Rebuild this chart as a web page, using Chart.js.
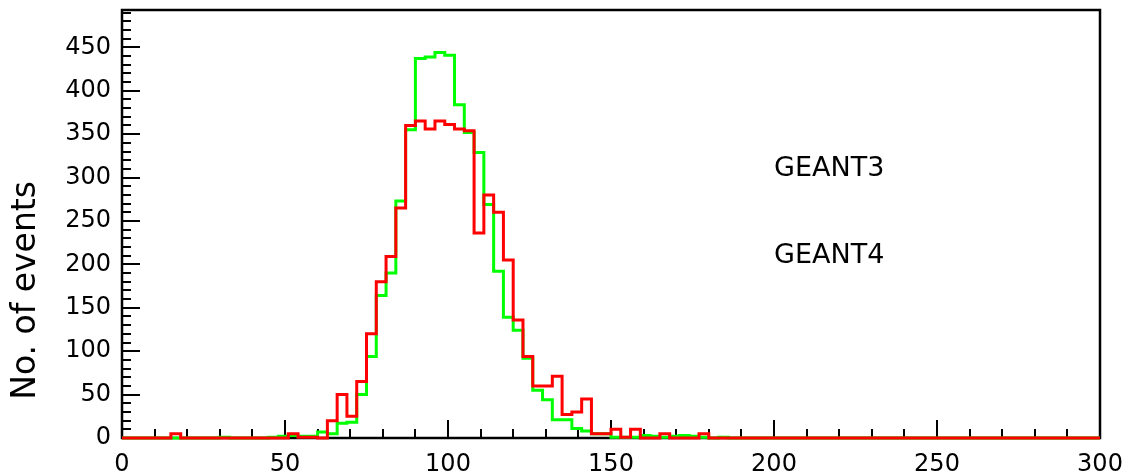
<!DOCTYPE html>
<html>
<head>
<meta charset="utf-8">
<script src="https://cdn.jsdelivr.net/npm/chart.js@4/dist/chart.umd.min.js"></script>
<style>
html,body{margin:0;padding:0;background:#fff;}
#wrap{width:1130px;height:474px;position:relative;}
</style>
</head>
<body>
<div id="wrap"><canvas id="c" width="1130" height="474"></canvas></div>
<script>
// ---- data ----
const binLow = [0,3,6,9,12,15,18,21,24,27,30,33,36,39,42,45,48,51,54,57,
  60,63,66,69,72,75,78,81,84,87,90,93,96,99,102,105,108,111,114,117,
  120,123,126,129,132,135,138,141,144,147,150,153,156,159,162,165,168,171,174,177,
  180,183,186,189,192,195,198,201,204,207,210,213,216,219,222,225,228,231,234,237,
  240,243,246,249,252,255,258,261,264,267,270,273,276,279,282,285,288,291,294,297];
const geant3Counts = [0,0,0,0,0,0,0,0,0,0,1,0,0,0,0,1,2,3,2,2,
  7,5,17,18,50,94,164,190,273,355,437,439,444,441,384,352,329,269,192,139,
  124,92,55,44,21,21,11,8,5,5,1,1,1,3,2,1,2,3,2,1,
  0,1,0,0,0,0,0,0,0,0,0,0,0,0,0,0,0,0,0,0,
  0,0,0,0,0,0,0,0,0,0,0,0,0,0,0,0,0,0,0,0];
const geant4Counts = [0,0,0,0,0,5,0,0,0,0,0,0,0,0,0,0,0,5,1,1,
  0,20,50,25,65,120,180,209,265,360,365,356,365,361,356,354,236,280,260,205,
  136,94,60,60,71,27,30,45,5,5,10,1,10,0,0,5,0,0,0,5,
  0,0,0,0,0,0,0,0,0,0,0,0,0,0,0,0,0,0,0,0,
  0,0,0,0,0,0,0,0,0,0,0,0,0,0,0,0,0,0,0,0];
const xTickLabels = ['0','50','100','150','200','250','300'];
const yTickLabels = ['0','50','100','150','200','250','300','350','400','450'];
const yAxisTitle = 'No. of events';
const textLabels = ['GEANT3','GEANT4'];
const textLabelX = [200, 200];
const textLabelY = [310, 210];
const xMax = 300;
const yMax = 493;
const minorStep = 10;
const majorStep = 50;

// ---- helpers ----
function histPoints(counts) {
  const pts = binLow.map((x, i) => ({x: x, y: counts[i]}));
  pts.push({x: xMax, y: counts[counts.length - 1]});
  return pts;
}

const FONT = 'DejaVu Sans';

const framePlugin = {
  id: 'frameTicks',
  beforeDatasetsDraw(chart) {
    const {ctx, chartArea: a} = chart;
    const xs = chart.scales.x, ys = chart.scales.y;
    ctx.save();
    ctx.strokeStyle = '#000';
    ctx.lineWidth = 2;
    ctx.beginPath();
    for (let v = 0; v <= xMax; v += minorStep) {
      const px = Math.round(xs.getPixelForValue(v));
      const len = (v % majorStep === 0) ? 18 : 9;
      ctx.moveTo(px, a.bottom);
      ctx.lineTo(px, a.bottom - len);
    }
    for (let v = 0; v <= yMax; v += minorStep) {
      const py = Math.round(ys.getPixelForValue(v));
      const len = (v % majorStep === 0) ? 18 : 9;
      ctx.moveTo(a.left, py);
      ctx.lineTo(a.left + len, py);
    }
    ctx.stroke();
    ctx.lineWidth = 2.5;
    ctx.strokeRect(a.left, a.top, a.right - a.left, a.bottom - a.top);
    ctx.restore();
  },
  afterDraw(chart) {
    const {ctx} = chart;
    const xs = chart.scales.x, ys = chart.scales.y;
    ctx.save();
    ctx.fillStyle = '#000';
    ctx.font = '33px "' + FONT + '"';
    ctx.textAlign = 'center';
    ctx.textBaseline = 'middle';
    ctx.translate(26, ys.getPixelForValue(170));
    ctx.rotate(-Math.PI / 2);
    ctx.fillText(yAxisTitle, 0, 0);
    ctx.restore();
    ctx.save();
    ctx.fillStyle = '#000';
    ctx.font = '27px "' + FONT + '"';
    ctx.textAlign = 'left';
    ctx.textBaseline = 'middle';
    textLabels.forEach((t, i) => {
      ctx.fillText(t, xs.getPixelForValue(textLabelX[i]), ys.getPixelForValue(textLabelY[i]));
    });
    ctx.restore();
  }
};

new Chart(document.getElementById('c'), {
  type: 'line',
  data: {
    datasets: [
      {
        label: 'GEANT4',
        data: histPoints(geant4Counts),
        borderColor: '#ff0000',
        borderWidth: 3,
        stepped: 'before',
        pointRadius: 0,
        fill: false,
        clip: 6
      },
      {
        label: 'GEANT3',
        data: histPoints(geant3Counts),
        borderColor: '#00ff00',
        borderWidth: 3,
        stepped: 'before',
        pointRadius: 0,
        fill: false,
        clip: 6
      }
    ]
  },
  options: {
    responsive: false,
    animation: false,
    devicePixelRatio: 1,
    layout: {padding: {top: 10, right: 30, left: 0, bottom: 0}},
    plugins: {legend: {display: false}, tooltip: {enabled: false}},
    scales: {
      x: {
        type: 'linear',
        min: 0,
        max: xMax,
        afterBuildTicks: (s) => { s.ticks = xTickLabels.map(l => ({value: Number(l)})); },
        afterFit: (s) => { s.height = 36; s.paddingLeft = 0; s.paddingRight = 0; },
        ticks: {
          autoSkip: false,
          maxRotation: 0,
          padding: 12,
          color: '#000',
          font: {family: FONT, size: 24},
          callback: (v, i) => xTickLabels[i]
        },
        grid: {display: false, drawTicks: false},
        border: {display: false}
      },
      y: {
        type: 'linear',
        min: 0,
        max: yMax,
        afterBuildTicks: (s) => { s.ticks = yTickLabels.map(l => ({value: Number(l)})); },
        afterFit: (s) => { s.width = 122; s.paddingTop = 0; s.paddingBottom = 0; },
        ticks: {
          autoSkip: false,
          padding: 11,
          color: '#000',
          font: {family: FONT, size: 24},
          callback: (v, i) => yTickLabels[i]
        },
        grid: {display: false, drawTicks: false},
        border: {display: false}
      }
    }
  },
  plugins: [framePlugin]
});
</script>
</body>
</html>
